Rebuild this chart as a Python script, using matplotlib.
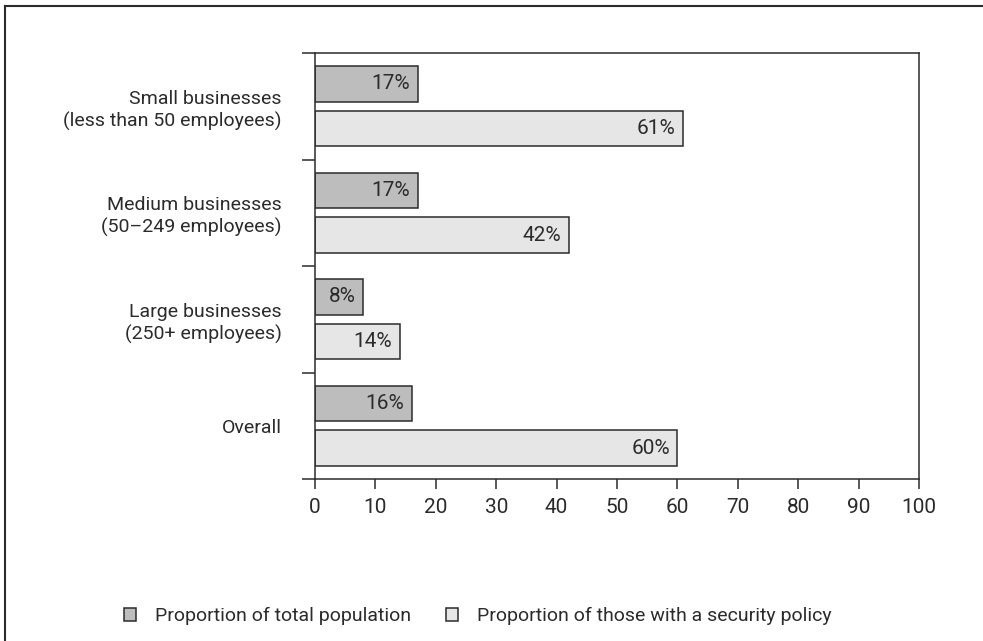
import matplotlib.pyplot as plt
from matplotlib.lines import Line2D

plt.rcParams['font.family'] = ['Roboto', 'DejaVu Sans']
plt.rcParams['font.size'] = 14

groups = ["Small businesses\n(less than 50 employees)",
          "Medium businesses\n(50\u2013249 employees)",
          "Large businesses\n(250+ employees)",
          "Overall"]
total_population = [17, 17, 8, 16]
with_policy = [61, 42, 14, 60]
series_names = ["Proportion of total population",
                "Proportion of those with a security policy"]
x_ticks = list(range(0, 101, 10))

dark = "#bdbdbd"
light = "#e6e6e6"
ink = "#2b2b2b"

fig = plt.figure(figsize=(9.83, 6.41), dpi=100)
ax = fig.add_axes([315 / 983, 1 - 479 / 641, 604 / 983, 426 / 641])

idx = range(len(groups))
h = 0.335
b1 = ax.barh([i + 0.29 for i in idx], total_population, height=h,
             color=dark, edgecolor=ink, linewidth=1.1, label=series_names[0])
b2 = ax.barh([i + 0.71 for i in idx], with_policy, height=h,
             color=light, edgecolor=ink, linewidth=1.1, label=series_names[1])

for bars, vals in ((b1, total_population), (b2, with_policy)):
    for bar, v in zip(bars, vals):
        ax.annotate(f"{v}%", (v, bar.get_y() + bar.get_height() / 2),
                    xytext=(-5.5, 0), textcoords="offset points",
                    ha="right", va="center", color=ink, fontsize=15)

ax.set_xlim(0, 100)
ax.set_ylim(len(groups), 0)
ax.set_xticks(x_ticks)
ax.tick_params(axis="x", direction="out", length=7.5, width=1.1,
               color=ink, labelcolor=ink, pad=6.5, labelsize=15)

# group separators on the left, labels at group centres
ax.set_yticks(range(len(groups) + 1))
ax.set_yticklabels([])
ax.tick_params(axis="y", which="major", length=9.5, width=1.1, color=ink)
ax.set_yticks([i + 0.5 for i in idx], minor=True)
ax.set_yticklabels(groups, minor=True, ha="right", linespacing=1.25)
ax.tick_params(axis="y", which="minor", length=0, pad=24, labelcolor=ink)

for s in ax.spines.values():
    s.set_color(ink)
    s.set_linewidth(1.1)

fig.legend(handles=[b1, b2], loc="center left",
           bbox_to_anchor=(124 / 983, 1 - 616 / 641), ncol=2, frameon=False,
           handlelength=0.62, handleheight=0.62, handletextpad=0.98,
           columnspacing=1.8, borderaxespad=0, borderpad=0, labelcolor=ink)

# page frame, open at the right and bottom
fig.add_artist(Line2D([5 / 983, 5 / 983], [0, 1 - 6 / 641],
                      transform=fig.transFigure, color=ink, lw=1.5))
fig.add_artist(Line2D([5 / 983, 1], [1 - 6 / 641, 1 - 6 / 641],
                      transform=fig.transFigure, color=ink, lw=1.5))

fig.savefig("out.png", dpi=100)
